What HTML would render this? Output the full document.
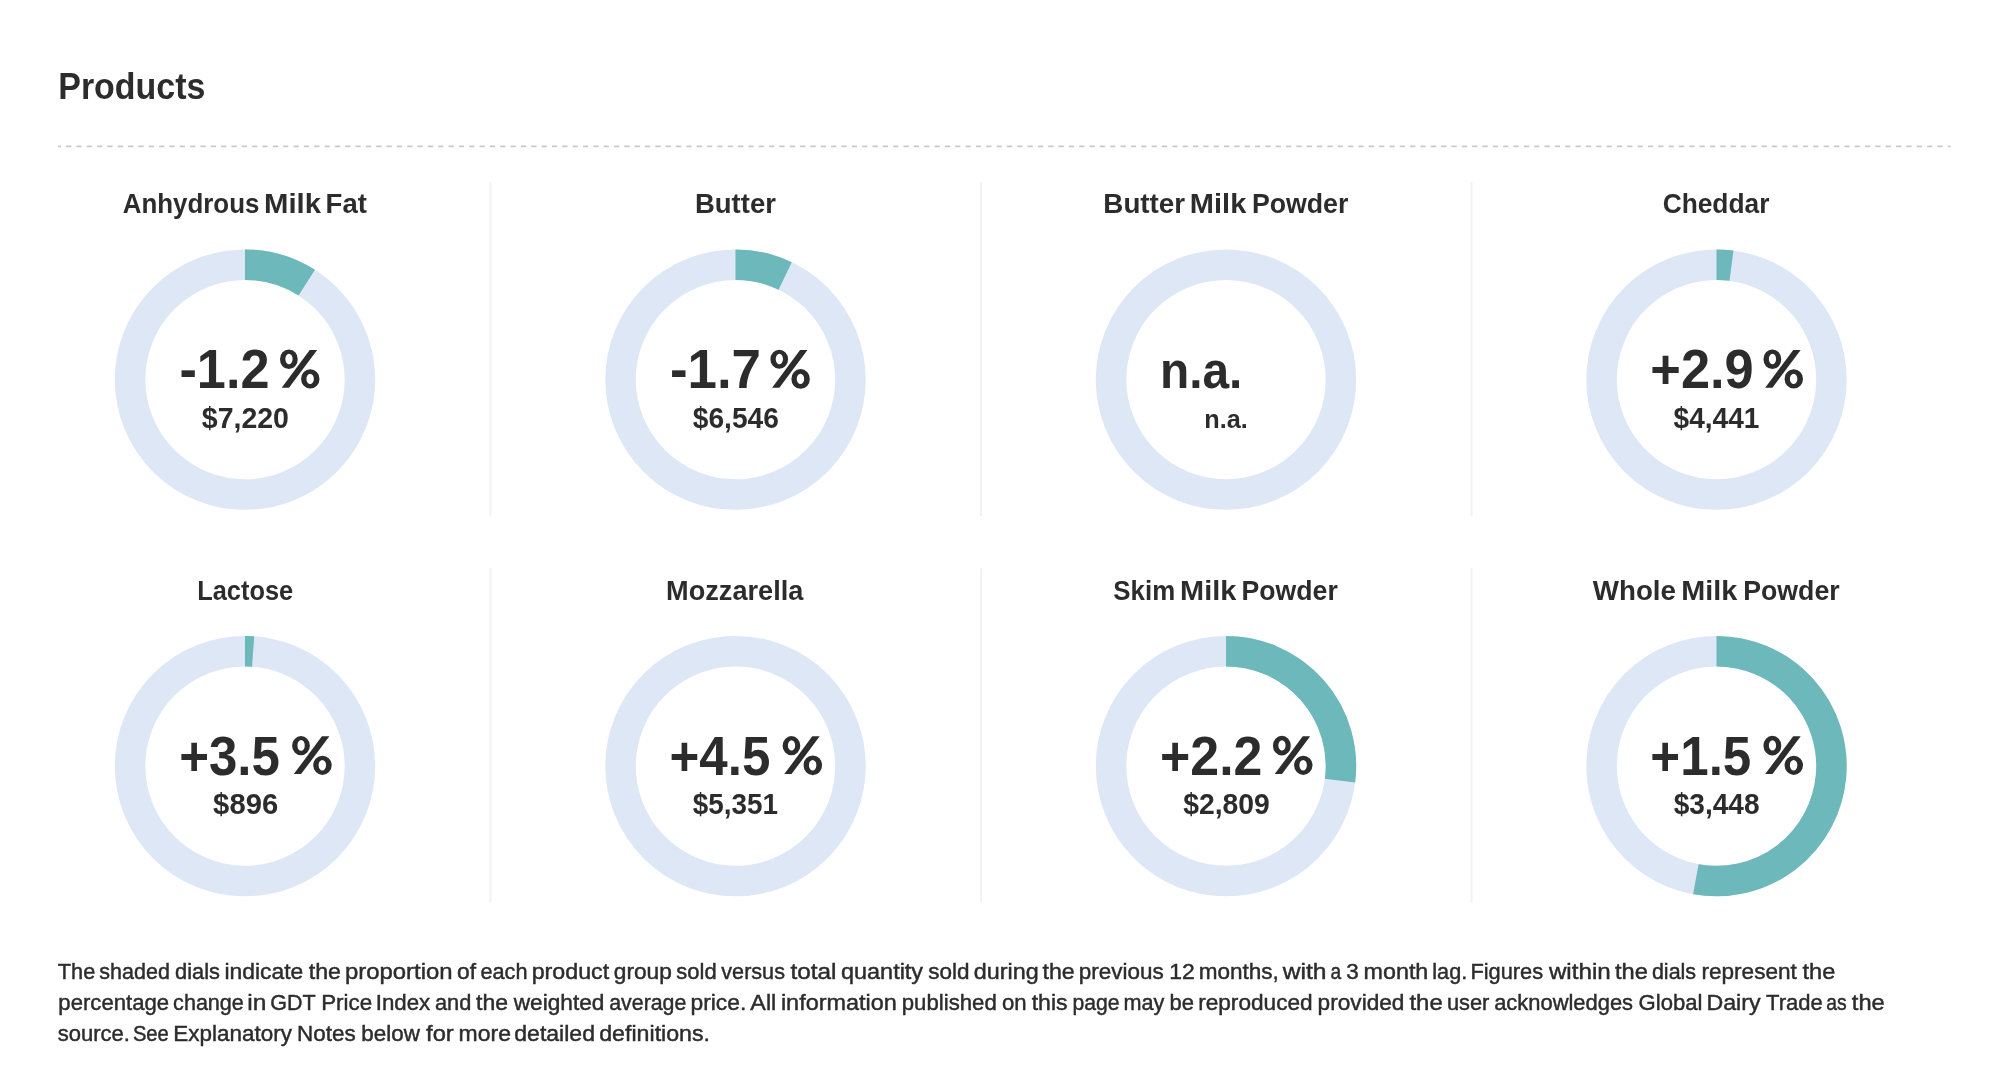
<!DOCTYPE html>
<html><head><meta charset="utf-8"><title>Products</title>
<style>
html,body{margin:0;padding:0;background:#fff;width:2000px;height:1078px;overflow:hidden}
svg{display:block;font-family:"Liberation Sans",sans-serif;will-change:transform}
</style></head><body>
<svg width="2000" height="1078" viewBox="0 0 2000 1078">
<line x1="58" y1="146.45" x2="1950.6" y2="146.45" stroke="#c9c9c9" stroke-width="1.75" stroke-dasharray="5.2 5.139" stroke-dashoffset="2.3"/>
<rect x="489.5" y="182" width="1.9" height="334" fill="#f1f1f1"/>
<rect x="980.2" y="182" width="1.9" height="334" fill="#f1f1f1"/>
<rect x="1470.6" y="182" width="1.9" height="334" fill="#f1f1f1"/>
<rect x="489.5" y="568.4" width="1.9" height="334.20000000000005" fill="#f1f1f1"/>
<rect x="980.2" y="568.4" width="1.9" height="334.20000000000005" fill="#f1f1f1"/>
<rect x="1470.6" y="568.4" width="1.9" height="334.20000000000005" fill="#f1f1f1"/>
<circle cx="245" cy="379.6" r="114.94999999999999" fill="none" stroke="#dde7f5" stroke-width="30.499999999999986"/>
<path d="M245 264.65000000000003 A114.94999999999999 114.94999999999999 0 0 1 306.763 282.652" fill="none" stroke="#6cb8ba" stroke-width="30.499999999999986"/>
<circle cx="735.5" cy="379.6" r="114.94999999999999" fill="none" stroke="#dde7f5" stroke-width="30.499999999999986"/>
<path d="M735.5 264.65000000000003 A114.94999999999999 114.94999999999999 0 0 1 785.168 275.934" fill="none" stroke="#6cb8ba" stroke-width="30.499999999999986"/>
<circle cx="1226" cy="379.6" r="114.94999999999999" fill="none" stroke="#dde7f5" stroke-width="30.499999999999986"/>
<circle cx="1716.5" cy="379.6" r="114.94999999999999" fill="none" stroke="#dde7f5" stroke-width="30.499999999999986"/>
<path d="M1716.5 264.65000000000003 A114.94999999999999 114.94999999999999 0 0 1 1731.504 265.633" fill="none" stroke="#6cb8ba" stroke-width="30.499999999999986"/>
<circle cx="245" cy="766.1" r="114.94999999999999" fill="none" stroke="#dde7f5" stroke-width="30.499999999999986"/>
<path d="M245 651.1500000000001 A114.94999999999999 114.94999999999999 0 0 1 253.119 651.437" fill="none" stroke="#6cb8ba" stroke-width="30.499999999999986"/>
<circle cx="735.5" cy="766.1" r="114.94999999999999" fill="none" stroke="#dde7f5" stroke-width="30.499999999999986"/>
<circle cx="1226" cy="766.1" r="114.94999999999999" fill="none" stroke="#dde7f5" stroke-width="30.499999999999986"/>
<path d="M1226 651.1500000000001 A114.94999999999999 114.94999999999999 0 0 1 1340.031 780.607" fill="none" stroke="#6cb8ba" stroke-width="30.499999999999986"/>
<circle cx="1716.5" cy="766.1" r="114.94999999999999" fill="none" stroke="#dde7f5" stroke-width="30.499999999999986"/>
<path d="M1716.5 651.1500000000001 A114.94999999999999 114.94999999999999 0 1 1 1695.848 879.180" fill="none" stroke="#6cb8ba" stroke-width="30.499999999999986"/>
<path d="M280.00 359.25a8.87 9.55 0 1 0 17.73 0a8.87 9.55 0 1 0 -17.73 0ZM285.34 359.00a3.63 5.20 0 1 0 7.26 0a3.63 5.20 0 1 0 -7.26 0ZM301.06 378.90a9.22 9.60 0 1 0 18.44 0a9.22 9.60 0 1 0 -18.44 0ZM306.40 378.90a3.73 5.20 0 1 0 7.46 0a3.73 5.20 0 1 0 -7.46 0ZM281.71 387.70 L288.97 387.70 L317.18 349.90 L309.73 349.90Z" fill="#2c2c2c" fill-rule="evenodd"/>
<path d="M770.40 359.25a8.84 9.55 0 1 0 17.69 0a8.84 9.55 0 1 0 -17.69 0ZM775.73 359.00a3.62 5.20 0 1 0 7.24 0a3.62 5.20 0 1 0 -7.24 0ZM791.41 378.90a9.20 9.60 0 1 0 18.39 0a9.20 9.60 0 1 0 -18.39 0ZM796.73 378.90a3.72 5.20 0 1 0 7.44 0a3.72 5.20 0 1 0 -7.44 0ZM772.11 387.70 L779.35 387.70 L807.49 349.90 L800.05 349.90Z" fill="#2c2c2c" fill-rule="evenodd"/>
<path d="M1763.50 359.25a8.87 9.55 0 1 0 17.73 0a8.87 9.55 0 1 0 -17.73 0ZM1768.84 359.00a3.63 5.20 0 1 0 7.26 0a3.63 5.20 0 1 0 -7.26 0ZM1784.56 378.90a9.22 9.60 0 1 0 18.44 0a9.22 9.60 0 1 0 -18.44 0ZM1789.90 378.90a3.73 5.20 0 1 0 7.46 0a3.73 5.20 0 1 0 -7.46 0ZM1765.21 387.70 L1772.47 387.70 L1800.68 349.90 L1793.23 349.90Z" fill="#2c2c2c" fill-rule="evenodd"/>
<path d="M292.10 745.65a8.89 9.55 0 1 0 17.78 0a8.89 9.55 0 1 0 -17.78 0ZM297.45 745.40a3.64 5.20 0 1 0 7.27 0a3.64 5.20 0 1 0 -7.27 0ZM313.21 765.30a9.24 9.60 0 1 0 18.49 0a9.24 9.60 0 1 0 -18.49 0ZM318.57 765.30a3.74 5.20 0 1 0 7.48 0a3.74 5.20 0 1 0 -7.48 0ZM293.82 774.10 L301.09 774.10 L329.38 736.30 L321.90 736.30Z" fill="#2c2c2c" fill-rule="evenodd"/>
<path d="M782.60 745.65a8.84 9.55 0 1 0 17.69 0a8.84 9.55 0 1 0 -17.69 0ZM787.93 745.40a3.62 5.20 0 1 0 7.24 0a3.62 5.20 0 1 0 -7.24 0ZM803.61 765.30a9.20 9.60 0 1 0 18.39 0a9.20 9.60 0 1 0 -18.39 0ZM808.93 765.30a3.72 5.20 0 1 0 7.44 0a3.72 5.20 0 1 0 -7.44 0ZM784.31 774.10 L791.55 774.10 L819.69 736.30 L812.25 736.30Z" fill="#2c2c2c" fill-rule="evenodd"/>
<path d="M1273.00 745.65a8.87 9.55 0 1 0 17.73 0a8.87 9.55 0 1 0 -17.73 0ZM1278.34 745.40a3.63 5.20 0 1 0 7.26 0a3.63 5.20 0 1 0 -7.26 0ZM1294.06 765.30a9.22 9.60 0 1 0 18.44 0a9.22 9.60 0 1 0 -18.44 0ZM1299.40 765.30a3.73 5.20 0 1 0 7.46 0a3.73 5.20 0 1 0 -7.46 0ZM1274.71 774.10 L1281.97 774.10 L1310.18 736.30 L1302.73 736.30Z" fill="#2c2c2c" fill-rule="evenodd"/>
<path d="M1763.50 745.65a8.87 9.55 0 1 0 17.73 0a8.87 9.55 0 1 0 -17.73 0ZM1768.84 745.40a3.63 5.20 0 1 0 7.26 0a3.63 5.20 0 1 0 -7.26 0ZM1784.56 765.30a9.22 9.60 0 1 0 18.44 0a9.22 9.60 0 1 0 -18.44 0ZM1789.90 765.30a3.73 5.20 0 1 0 7.46 0a3.73 5.20 0 1 0 -7.46 0ZM1765.21 774.10 L1772.47 774.10 L1800.68 736.30 L1793.23 736.30Z" fill="#2c2c2c" fill-rule="evenodd"/>
<text x="58.26" y="98.6" font-weight="700" font-size="37.5" textLength="147.07" lengthAdjust="spacingAndGlyphs" fill="#2c2c2c">Products</text>
<text x="695.03" y="213.1" font-weight="700" font-size="28.3" textLength="80.85" lengthAdjust="spacingAndGlyphs" fill="#2c2c2c">Butter</text>
<text x="1662.63" y="213.1" font-weight="700" font-size="28.3" textLength="106.81" lengthAdjust="spacingAndGlyphs" fill="#2c2c2c">Cheddar</text>
<text x="197.24" y="599.5" font-weight="700" font-size="28.3" textLength="95.96" lengthAdjust="spacingAndGlyphs" fill="#2c2c2c">Lactose</text>
<text x="666.09" y="599.5" font-weight="700" font-size="28.3" textLength="137.29" lengthAdjust="spacingAndGlyphs" fill="#2c2c2c">Mozzarella</text>
<text x="1160.00" y="388.1" font-weight="700" font-size="51.2" textLength="82.40" lengthAdjust="spacingAndGlyphs" fill="#2c2c2c">n.a.</text>
<text x="201.84" y="427.5" font-weight="700" font-size="29" textLength="87.11" lengthAdjust="spacingAndGlyphs" fill="#2c2c2c">$7,220</text>
<text x="692.85" y="427.5" font-weight="700" font-size="29" textLength="86.01" lengthAdjust="spacingAndGlyphs" fill="#2c2c2c">$6,546</text>
<text x="1204.30" y="428" font-weight="700" font-size="26.5" textLength="43.52" lengthAdjust="spacingAndGlyphs" fill="#2c2c2c">n.a.</text>
<text x="1673.61" y="427.5" font-weight="700" font-size="29" textLength="85.80" lengthAdjust="spacingAndGlyphs" fill="#2c2c2c">$4,441</text>
<text x="213.13" y="814" font-weight="700" font-size="29" textLength="65.01" lengthAdjust="spacingAndGlyphs" fill="#2c2c2c">$896</text>
<text x="692.77" y="814" font-weight="700" font-size="29" textLength="85.12" lengthAdjust="spacingAndGlyphs" fill="#2c2c2c">$5,351</text>
<text x="1183.25" y="814" font-weight="700" font-size="29" textLength="86.63" lengthAdjust="spacingAndGlyphs" fill="#2c2c2c">$2,809</text>
<text x="1673.74" y="814" font-weight="700" font-size="29" textLength="85.82" lengthAdjust="spacingAndGlyphs" fill="#2c2c2c">$3,448</text>
<text x="122.73" y="213.1" font-weight="700" font-size="28.3" textLength="136.69" lengthAdjust="spacingAndGlyphs" fill="#2c2c2c">Anhydrous</text>
<text x="264.00" y="213.1" font-weight="700" font-size="28.3" textLength="56.96" lengthAdjust="spacingAndGlyphs" fill="#2c2c2c">Milk</text>
<text x="325.60" y="213.1" font-weight="700" font-size="28.3" textLength="41.25" lengthAdjust="spacingAndGlyphs" fill="#2c2c2c">Fat</text>
<text x="1103.33" y="213.1" font-weight="700" font-size="28.3" textLength="81.82" lengthAdjust="spacingAndGlyphs" fill="#2c2c2c">Butter</text>
<text x="1189.88" y="213.1" font-weight="700" font-size="28.3" textLength="56.39" lengthAdjust="spacingAndGlyphs" fill="#2c2c2c">Milk</text>
<text x="1251.88" y="213.1" font-weight="700" font-size="28.3" textLength="96.41" lengthAdjust="spacingAndGlyphs" fill="#2c2c2c">Powder</text>
<text x="1113.35" y="599.5" font-weight="700" font-size="28.3" textLength="61.78" lengthAdjust="spacingAndGlyphs" fill="#2c2c2c">Skim</text>
<text x="1180.07" y="599.5" font-weight="700" font-size="28.3" textLength="56.22" lengthAdjust="spacingAndGlyphs" fill="#2c2c2c">Milk</text>
<text x="1241.57" y="599.5" font-weight="700" font-size="28.3" textLength="96.23" lengthAdjust="spacingAndGlyphs" fill="#2c2c2c">Powder</text>
<text x="1592.87" y="599.5" font-weight="700" font-size="28.3" textLength="83.13" lengthAdjust="spacingAndGlyphs" fill="#2c2c2c">Whole</text>
<text x="1681.35" y="599.5" font-weight="700" font-size="28.3" textLength="56.01" lengthAdjust="spacingAndGlyphs" fill="#2c2c2c">Milk</text>
<text x="1743.21" y="599.5" font-weight="700" font-size="28.3" textLength="96.44" lengthAdjust="spacingAndGlyphs" fill="#2c2c2c">Powder</text>
<text x="179.47" y="388.1" font-weight="700" font-size="55.7" textLength="90.00" lengthAdjust="spacingAndGlyphs" fill="#2c2c2c">-1.2</text>
<text x="669.94" y="388.1" font-weight="700" font-size="55.7" textLength="91.06" lengthAdjust="spacingAndGlyphs" fill="#2c2c2c">-1.7</text>
<text x="1650.32" y="388.1" font-weight="700" font-size="55.7" textLength="103.35" lengthAdjust="spacingAndGlyphs" fill="#2c2c2c">+2.9</text>
<text x="179.22" y="774.5" font-weight="700" font-size="55.7" textLength="100.68" lengthAdjust="spacingAndGlyphs" fill="#2c2c2c">+3.5</text>
<text x="669.49" y="774.5" font-weight="700" font-size="55.7" textLength="100.80" lengthAdjust="spacingAndGlyphs" fill="#2c2c2c">+4.5</text>
<text x="1160.12" y="774.5" font-weight="700" font-size="55.7" textLength="102.27" lengthAdjust="spacingAndGlyphs" fill="#2c2c2c">+2.2</text>
<text x="1650.35" y="774.5" font-weight="700" font-size="55.7" textLength="100.92" lengthAdjust="spacingAndGlyphs" fill="#2c2c2c">+1.5</text>
<text x="57.86" y="978.9" font-weight="400" font-size="22" textLength="37.38" lengthAdjust="spacingAndGlyphs" fill="#2c2c2c" stroke="#2c2c2c" stroke-width="0.45">The</text>
<text x="99.35" y="978.9" font-weight="400" font-size="22" textLength="70.52" lengthAdjust="spacingAndGlyphs" fill="#2c2c2c" stroke="#2c2c2c" stroke-width="0.45">shaded</text>
<text x="175.01" y="978.9" font-weight="400" font-size="22" textLength="44.90" lengthAdjust="spacingAndGlyphs" fill="#2c2c2c" stroke="#2c2c2c" stroke-width="0.45">dials</text>
<text x="224.45" y="978.9" font-weight="400" font-size="22" textLength="78.89" lengthAdjust="spacingAndGlyphs" fill="#2c2c2c" stroke="#2c2c2c" stroke-width="0.45">indicate</text>
<text x="308.70" y="978.9" font-weight="400" font-size="22" textLength="32.24" lengthAdjust="spacingAndGlyphs" fill="#2c2c2c" stroke="#2c2c2c" stroke-width="0.45">the</text>
<text x="344.90" y="978.9" font-weight="400" font-size="22" textLength="107.68" lengthAdjust="spacingAndGlyphs" fill="#2c2c2c" stroke="#2c2c2c" stroke-width="0.45">proportion</text>
<text x="456.94" y="978.9" font-weight="400" font-size="22" textLength="19.04" lengthAdjust="spacingAndGlyphs" fill="#2c2c2c" stroke="#2c2c2c" stroke-width="0.45">of</text>
<text x="480.46" y="978.9" font-weight="400" font-size="22" textLength="47.07" lengthAdjust="spacingAndGlyphs" fill="#2c2c2c" stroke="#2c2c2c" stroke-width="0.45">each</text>
<text x="531.66" y="978.9" font-weight="400" font-size="22" textLength="77.49" lengthAdjust="spacingAndGlyphs" fill="#2c2c2c" stroke="#2c2c2c" stroke-width="0.45">product</text>
<text x="613.78" y="978.9" font-weight="400" font-size="22" textLength="58.12" lengthAdjust="spacingAndGlyphs" fill="#2c2c2c" stroke="#2c2c2c" stroke-width="0.45">group</text>
<text x="676.35" y="978.9" font-weight="400" font-size="22" textLength="40.27" lengthAdjust="spacingAndGlyphs" fill="#2c2c2c" stroke="#2c2c2c" stroke-width="0.45">sold</text>
<text x="721.33" y="978.9" font-weight="400" font-size="22" textLength="63.60" lengthAdjust="spacingAndGlyphs" fill="#2c2c2c" stroke="#2c2c2c" stroke-width="0.45">versus</text>
<text x="790.48" y="978.9" font-weight="400" font-size="22" textLength="46.00" lengthAdjust="spacingAndGlyphs" fill="#2c2c2c" stroke="#2c2c2c" stroke-width="0.45">total</text>
<text x="841.04" y="978.9" font-weight="400" font-size="22" textLength="82.04" lengthAdjust="spacingAndGlyphs" fill="#2c2c2c" stroke="#2c2c2c" stroke-width="0.45">quantity</text>
<text x="928.21" y="978.9" font-weight="400" font-size="22" textLength="41.27" lengthAdjust="spacingAndGlyphs" fill="#2c2c2c" stroke="#2c2c2c" stroke-width="0.45">sold</text>
<text x="973.71" y="978.9" font-weight="400" font-size="22" textLength="64.91" lengthAdjust="spacingAndGlyphs" fill="#2c2c2c" stroke="#2c2c2c" stroke-width="0.45">during</text>
<text x="1042.55" y="978.9" font-weight="400" font-size="22" textLength="32.18" lengthAdjust="spacingAndGlyphs" fill="#2c2c2c" stroke="#2c2c2c" stroke-width="0.45">the</text>
<text x="1078.78" y="978.9" font-weight="400" font-size="22" textLength="84.88" lengthAdjust="spacingAndGlyphs" fill="#2c2c2c" stroke="#2c2c2c" stroke-width="0.45">previous</text>
<text x="1169.17" y="978.9" font-weight="400" font-size="22" textLength="25.46" lengthAdjust="spacingAndGlyphs" fill="#2c2c2c" stroke="#2c2c2c" stroke-width="0.45">12</text>
<text x="1198.79" y="978.9" font-weight="400" font-size="22" textLength="80.10" lengthAdjust="spacingAndGlyphs" fill="#2c2c2c" stroke="#2c2c2c" stroke-width="0.45">months,</text>
<text x="1282.74" y="978.9" font-weight="400" font-size="22" textLength="43.75" lengthAdjust="spacingAndGlyphs" fill="#2c2c2c" stroke="#2c2c2c" stroke-width="0.45">with</text>
<text x="1330.60" y="978.9" font-weight="400" font-size="22" textLength="10.65" lengthAdjust="spacingAndGlyphs" fill="#2c2c2c" stroke="#2c2c2c" stroke-width="0.45">a</text>
<text x="1346.38" y="978.9" font-weight="400" font-size="22" textLength="12.48" lengthAdjust="spacingAndGlyphs" fill="#2c2c2c" stroke="#2c2c2c" stroke-width="0.45">3</text>
<text x="1363.57" y="978.9" font-weight="400" font-size="22" textLength="64.76" lengthAdjust="spacingAndGlyphs" fill="#2c2c2c" stroke="#2c2c2c" stroke-width="0.45">month</text>
<text x="1432.31" y="978.9" font-weight="400" font-size="22" textLength="34.89" lengthAdjust="spacingAndGlyphs" fill="#2c2c2c" stroke="#2c2c2c" stroke-width="0.45">lag.</text>
<text x="1470.40" y="978.9" font-weight="400" font-size="22" textLength="72.73" lengthAdjust="spacingAndGlyphs" fill="#2c2c2c" stroke="#2c2c2c" stroke-width="0.45">Figures</text>
<text x="1548.90" y="978.9" font-weight="400" font-size="22" textLength="61.82" lengthAdjust="spacingAndGlyphs" fill="#2c2c2c" stroke="#2c2c2c" stroke-width="0.45">within</text>
<text x="1614.96" y="978.9" font-weight="400" font-size="22" textLength="32.92" lengthAdjust="spacingAndGlyphs" fill="#2c2c2c" stroke="#2c2c2c" stroke-width="0.45">the</text>
<text x="1651.93" y="978.9" font-weight="400" font-size="22" textLength="44.18" lengthAdjust="spacingAndGlyphs" fill="#2c2c2c" stroke="#2c2c2c" stroke-width="0.45">dials</text>
<text x="1701.46" y="978.9" font-weight="400" font-size="22" textLength="95.43" lengthAdjust="spacingAndGlyphs" fill="#2c2c2c" stroke="#2c2c2c" stroke-width="0.45">represent</text>
<text x="1802.55" y="978.9" font-weight="400" font-size="22" textLength="32.78" lengthAdjust="spacingAndGlyphs" fill="#2c2c2c" stroke="#2c2c2c" stroke-width="0.45">the</text>
<text x="58.38" y="1010" font-weight="400" font-size="22" textLength="110.66" lengthAdjust="spacingAndGlyphs" fill="#2c2c2c" stroke="#2c2c2c" stroke-width="0.45">percentage</text>
<text x="173.11" y="1010" font-weight="400" font-size="22" textLength="70.75" lengthAdjust="spacingAndGlyphs" fill="#2c2c2c" stroke="#2c2c2c" stroke-width="0.45">change</text>
<text x="247.33" y="1010" font-weight="400" font-size="22" textLength="19.08" lengthAdjust="spacingAndGlyphs" fill="#2c2c2c" stroke="#2c2c2c" stroke-width="0.45">in</text>
<text x="270.31" y="1010" font-weight="400" font-size="22" textLength="45.46" lengthAdjust="spacingAndGlyphs" fill="#2c2c2c" stroke="#2c2c2c" stroke-width="0.45">GDT</text>
<text x="321.18" y="1010" font-weight="400" font-size="22" textLength="50.95" lengthAdjust="spacingAndGlyphs" fill="#2c2c2c" stroke="#2c2c2c" stroke-width="0.45">Price</text>
<text x="375.73" y="1010" font-weight="400" font-size="22" textLength="54.52" lengthAdjust="spacingAndGlyphs" fill="#2c2c2c" stroke="#2c2c2c" stroke-width="0.45">Index</text>
<text x="434.97" y="1010" font-weight="400" font-size="22" textLength="36.33" lengthAdjust="spacingAndGlyphs" fill="#2c2c2c" stroke="#2c2c2c" stroke-width="0.45">and</text>
<text x="476.14" y="1010" font-weight="400" font-size="22" textLength="32.04" lengthAdjust="spacingAndGlyphs" fill="#2c2c2c" stroke="#2c2c2c" stroke-width="0.45">the</text>
<text x="513.74" y="1010" font-weight="400" font-size="22" textLength="90.65" lengthAdjust="spacingAndGlyphs" fill="#2c2c2c" stroke="#2c2c2c" stroke-width="0.45">weighted</text>
<text x="609.27" y="1010" font-weight="400" font-size="22" textLength="77.07" lengthAdjust="spacingAndGlyphs" fill="#2c2c2c" stroke="#2c2c2c" stroke-width="0.45">average</text>
<text x="690.54" y="1010" font-weight="400" font-size="22" textLength="55.72" lengthAdjust="spacingAndGlyphs" fill="#2c2c2c" stroke="#2c2c2c" stroke-width="0.45">price.</text>
<text x="750.38" y="1010" font-weight="400" font-size="22" textLength="25.92" lengthAdjust="spacingAndGlyphs" fill="#2c2c2c" stroke="#2c2c2c" stroke-width="0.45">All</text>
<text x="780.91" y="1010" font-weight="400" font-size="22" textLength="115.86" lengthAdjust="spacingAndGlyphs" fill="#2c2c2c" stroke="#2c2c2c" stroke-width="0.45">information</text>
<text x="901.78" y="1010" font-weight="400" font-size="22" textLength="95.02" lengthAdjust="spacingAndGlyphs" fill="#2c2c2c" stroke="#2c2c2c" stroke-width="0.45">published</text>
<text x="1002.06" y="1010" font-weight="400" font-size="22" textLength="24.65" lengthAdjust="spacingAndGlyphs" fill="#2c2c2c" stroke="#2c2c2c" stroke-width="0.45">on</text>
<text x="1031.72" y="1010" font-weight="400" font-size="22" textLength="35.87" lengthAdjust="spacingAndGlyphs" fill="#2c2c2c" stroke="#2c2c2c" stroke-width="0.45">this</text>
<text x="1072.55" y="1010" font-weight="400" font-size="22" textLength="47.03" lengthAdjust="spacingAndGlyphs" fill="#2c2c2c" stroke="#2c2c2c" stroke-width="0.45">page</text>
<text x="1123.56" y="1010" font-weight="400" font-size="22" textLength="40.87" lengthAdjust="spacingAndGlyphs" fill="#2c2c2c" stroke="#2c2c2c" stroke-width="0.45">may</text>
<text x="1169.41" y="1010" font-weight="400" font-size="22" textLength="24.54" lengthAdjust="spacingAndGlyphs" fill="#2c2c2c" stroke="#2c2c2c" stroke-width="0.45">be</text>
<text x="1198.16" y="1010" font-weight="400" font-size="22" textLength="114.48" lengthAdjust="spacingAndGlyphs" fill="#2c2c2c" stroke="#2c2c2c" stroke-width="0.45">reproduced</text>
<text x="1317.63" y="1010" font-weight="400" font-size="22" textLength="86.80" lengthAdjust="spacingAndGlyphs" fill="#2c2c2c" stroke="#2c2c2c" stroke-width="0.45">provided</text>
<text x="1409.44" y="1010" font-weight="400" font-size="22" textLength="33.32" lengthAdjust="spacingAndGlyphs" fill="#2c2c2c" stroke="#2c2c2c" stroke-width="0.45">the</text>
<text x="1446.89" y="1010" font-weight="400" font-size="22" textLength="42.45" lengthAdjust="spacingAndGlyphs" fill="#2c2c2c" stroke="#2c2c2c" stroke-width="0.45">user</text>
<text x="1494.16" y="1010" font-weight="400" font-size="22" textLength="138.91" lengthAdjust="spacingAndGlyphs" fill="#2c2c2c" stroke="#2c2c2c" stroke-width="0.45">acknowledges</text>
<text x="1638.61" y="1010" font-weight="400" font-size="22" textLength="63.80" lengthAdjust="spacingAndGlyphs" fill="#2c2c2c" stroke="#2c2c2c" stroke-width="0.45">Global</text>
<text x="1706.46" y="1010" font-weight="400" font-size="22" textLength="54.16" lengthAdjust="spacingAndGlyphs" fill="#2c2c2c" stroke="#2c2c2c" stroke-width="0.45">Dairy</text>
<text x="1766.10" y="1010" font-weight="400" font-size="22" textLength="56.70" lengthAdjust="spacingAndGlyphs" fill="#2c2c2c" stroke="#2c2c2c" stroke-width="0.45">Trade</text>
<text x="1826.23" y="1010" font-weight="400" font-size="22" textLength="20.43" lengthAdjust="spacingAndGlyphs" fill="#2c2c2c" stroke="#2c2c2c" stroke-width="0.45">as</text>
<text x="1851.84" y="1010" font-weight="400" font-size="22" textLength="32.93" lengthAdjust="spacingAndGlyphs" fill="#2c2c2c" stroke="#2c2c2c" stroke-width="0.45">the</text>
<text x="57.81" y="1041.2" font-weight="400" font-size="22" textLength="72.18" lengthAdjust="spacingAndGlyphs" fill="#2c2c2c" stroke="#2c2c2c" stroke-width="0.45">source.</text>
<text x="132.88" y="1041.2" font-weight="400" font-size="22" textLength="35.96" lengthAdjust="spacingAndGlyphs" fill="#2c2c2c" stroke="#2c2c2c" stroke-width="0.45">See</text>
<text x="173.39" y="1041.2" font-weight="400" font-size="22" textLength="118.51" lengthAdjust="spacingAndGlyphs" fill="#2c2c2c" stroke="#2c2c2c" stroke-width="0.45">Explanatory</text>
<text x="297.08" y="1041.2" font-weight="400" font-size="22" textLength="58.62" lengthAdjust="spacingAndGlyphs" fill="#2c2c2c" stroke="#2c2c2c" stroke-width="0.45">Notes</text>
<text x="361.35" y="1041.2" font-weight="400" font-size="22" textLength="58.54" lengthAdjust="spacingAndGlyphs" fill="#2c2c2c" stroke="#2c2c2c" stroke-width="0.45">below</text>
<text x="426.14" y="1041.2" font-weight="400" font-size="22" textLength="27.64" lengthAdjust="spacingAndGlyphs" fill="#2c2c2c" stroke="#2c2c2c" stroke-width="0.45">for</text>
<text x="458.57" y="1041.2" font-weight="400" font-size="22" textLength="52.35" lengthAdjust="spacingAndGlyphs" fill="#2c2c2c" stroke="#2c2c2c" stroke-width="0.45">more</text>
<text x="514.25" y="1041.2" font-weight="400" font-size="22" textLength="80.72" lengthAdjust="spacingAndGlyphs" fill="#2c2c2c" stroke="#2c2c2c" stroke-width="0.45">detailed</text>
<text x="599.23" y="1041.2" font-weight="400" font-size="22" textLength="110.84" lengthAdjust="spacingAndGlyphs" fill="#2c2c2c" stroke="#2c2c2c" stroke-width="0.45">definitions.</text>
</svg>
</body></html>
